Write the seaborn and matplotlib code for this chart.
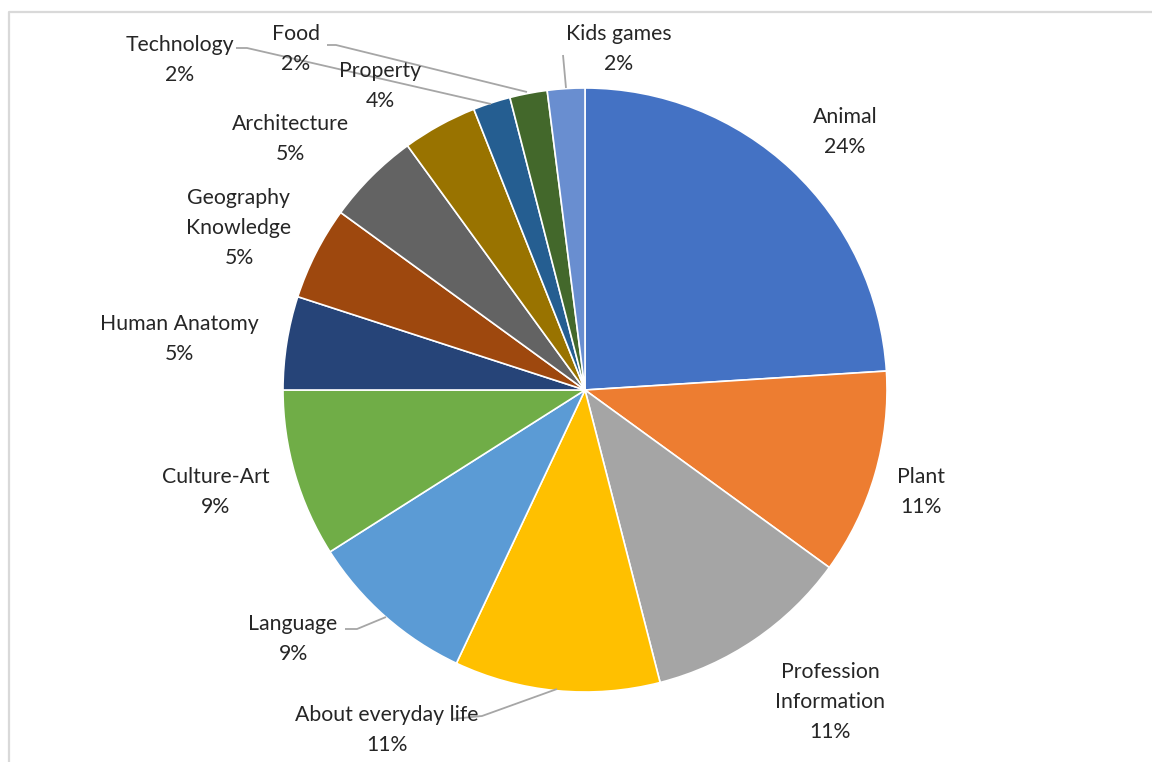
import matplotlib
matplotlib.use("Agg")
import matplotlib.pyplot as plt
import seaborn as sns

# ---- data ----
categories = ["Animal", "Plant", "Profession\nInformation", "About everyday life",
              "Language", "Culture-Art", "Human Anatomy", "Geography\nKnowledge",
              "Architecture", "Property", "Technology", "Food", "Kids games"]
values = [24, 11, 11, 11, 9, 9, 5, 5, 5, 4, 2, 2, 2]
colors = ["#4472C4", "#ED7D31", "#A5A5A5", "#FFC000", "#5B9BD5", "#70AD47",
          "#264478", "#9E480E", "#636363", "#997300", "#255E91", "#43682B", "#698ED0"]

# ---- layout (pixel coords, y from top) ----
W, H = 1152, 762
center = (585, 390)
radius = 302
label_pos = [(845, 132), (921, 492), (830, 702), (387, 730), (293, 639),
             (216, 492), (179, 339), (239, 228), (290, 139), (380, 86),
             (180, 60), (296, 49), (619, 49)]
leaders = {
    "About everyday life": [(557, 689), (482, 716), (452, 719)],
    "Language": [(345, 629), (357, 629), (386, 617)],
    "Technology": [(236, 48), (247, 48), (491, 104)],
    "Food": [(327, 45), (336, 45), (527, 92)],
    "Kids games": [(563, 55), (566, 88)],
}

sns.set_theme(style="white")
plt.rcParams["font.family"] = ["Lato", "DejaVu Sans"]

fig = plt.figure(figsize=(W / 100, H / 100), dpi=100)
ax = fig.add_axes([0, 0, 1, 1])
ax.set_xlim(0, W)
ax.set_ylim(0, H)
ax.set_aspect("equal")
ax.axis("off")

ax.pie(values, colors=colors, startangle=90, counterclock=False,
       radius=radius, center=(center[0], H - center[1]),
       wedgeprops=dict(edgecolor="white", linewidth=1.2), frame=False)
ax.set_xlim(0, W)
ax.set_ylim(0, H)

for cat, v, (x, y) in zip(categories, values, label_pos):
    ax.text(x, H - y, f"{cat}\n{v}%", ha="center", va="center",
            fontsize=15.3, color="#262626", linespacing=1.62)

for pts in leaders.values():
    xs = [p[0] for p in pts]
    ys = [H - p[1] for p in pts]
    ax.plot(xs, ys, color="#A6A6A6", linewidth=1.3, solid_capstyle="butt")

# chart frame
ax.plot([9, 9, W + 5], [-5, H - 12, H - 12], color="#D9D9D9", linewidth=1.6, clip_on=False)

fig.savefig("out.png", dpi=100, facecolor="white")
